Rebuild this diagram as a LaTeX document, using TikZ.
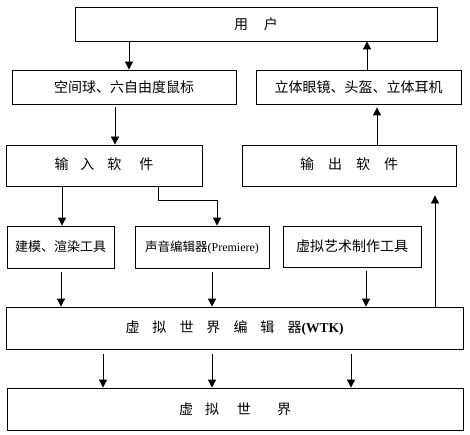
\documentclass[tikz,border=0pt]{standalone}
\usepackage{fontspec}
\setmainfont{Liberation Serif}
\newfontfamily\cjk{Noto Sans CJK SC}
\usetikzlibrary{arrows.meta}
\begin{document}
\begin{tikzpicture}[x=1pt,y=1pt,
  box/.style={draw,line width=0.8pt,inner sep=0pt,minimum width=#1},
  arr/.style={draw,line width=0.8pt,-{Triangle[width=8pt,length=8pt]}},
  txt/.style={font=\cjk\fontsize{14}{16}\selectfont}]
\useasboundingbox (0,0) rectangle (470,434);
% boxes
\node[box=362,minimum height=34,txt] (user) at (256,410) {用\hspace{16pt}户};
\node[box=224,minimum height=34,txt] (inp) at (124,347) {\raisebox{-3pt}{空间球、六自由度鼠标}};
\node[box=205,minimum height=34,txt] (outdev) at (358.5,347) {\raisebox{-3pt}{立体眼镜、头盔、立体耳机}};
\node[box=196,minimum height=41,txt] (insw) at (104,268.5) {\raisebox{3pt}{输\hspace{12pt}入\hspace{13pt}软\hspace{18pt}件}};
\node[box=214,minimum height=41,txt] (outsw) at (349,268.5) {\raisebox{3pt}{输\hspace{14pt}出\hspace{14pt}软\hspace{14pt}件}};
\node[box=107,minimum height=42,font=\cjk\fontsize{13}{15}\selectfont] (model) at (60.5,187) {建模、渲染工具};
\node[box=134,minimum height=42,font=\cjk\fontsize{12.5}{15}\selectfont] (sound) at (202,187) {声音编辑器{\rmfamily\fontsize{12}{14}\selectfont(Premiere)}};
\node[box=138,minimum height=41,txt] (art) at (352,187.5) {虚拟艺术制作工具};
\node[box=457,minimum height=42,txt] (wtk) at (234.5,106) {虚\hspace{13pt}拟\hspace{13pt}世\hspace{13pt}界\hspace{13pt}编\hspace{13pt}辑\hspace{13pt}器{\rmfamily\bfseries\fontsize{13.5}{15}\selectfont(WTK)}};
\node[box=456,minimum height=42,txt] (world) at (235,25) {虚\hspace{12pt}拟\hspace{18pt}世\hspace{26pt}界};
% connectors
\draw[arr] (129,0 |- user.south) -- (129,0 |- inp.north);
\draw[arr] (367,0 |- outdev.north) -- (367,0 |- user.south);
\draw[arr,shorten <=3pt] (115,0 |- inp.south) -- (115,0 |- insw.north);
\draw[arr,shorten >=3pt] (377,0 |- outsw.north) -- (377,0 |- outdev.south);
\draw[arr] (62,0 |- insw.south) -- (62,0 |- model.north);
\coordinate (k1) at (158,234);
\coordinate (k2) at (217,234);
\draw[arr] (158,0 |- insw.south) -- (k1) -- (k2) -- (217,0 |- sound.north);
\draw[arr,shorten <=4pt] (61,0 |- model.south) -- (61,0 |- wtk.north);
\draw[arr,shorten <=4pt] (212,0 |- sound.south) -- (212,0 |- wtk.north);
\draw[arr,shorten <=4pt] (366,0 |- art.south) -- (366,0 |- wtk.north);
\draw[arr,shorten >=9pt] (435,0 |- wtk.north) -- (435,0 |- outsw.south);
\draw[arr,shorten <=5pt] (103,0 |- wtk.south) -- (103,0 |- world.north);
\draw[arr,shorten <=5pt] (212,0 |- wtk.south) -- (212,0 |- world.north);
\draw[arr,shorten <=5pt] (351,0 |- wtk.south) -- (351,0 |- world.north);
\end{tikzpicture}
\end{document}
